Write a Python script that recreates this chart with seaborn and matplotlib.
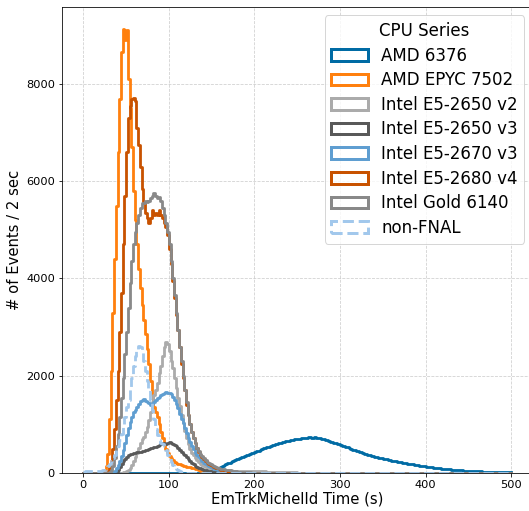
import numpy as np
import pandas as pd
import seaborn as sns
from matplotlib import pyplot as plt
from matplotlib.patches import Patch

# CPU series names, in legend / drawing order
cpus = ['AMD 6376', 'AMD EPYC 7502', 'Intel E5-2650 v2', 'Intel E5-2650 v3',
        'Intel E5-2670 v3', 'Intel E5-2680 v4', 'Intel Gold 6140', 'non-FNAL']

# tableau-colorblind10 colours
colors = ['#006BA4', '#FF800E', '#ABABAB', '#595959',
          '#5F9ED1', '#C85200', '#898989', '#A2C8EC']

# counts per 2 sec bin, each list starts at the given time (s)
amd6376_start = 150
amd6376 = [15, 25, 40, 60, 90,
           120, 140, 165, 180, 200,
           215, 235, 250, 265, 280,
           290, 305, 320, 330, 345,
           365, 375, 390, 405, 415,
           430, 445, 455, 470, 490,
           505, 515, 530, 540, 555,
           570, 580, 595, 605, 615,
           625, 635, 645, 650, 660,
           665, 675, 680, 690, 695,
           700, 705, 712, 715, 722,
           725, 730, 738, 728, 725,
           735, 720, 715, 710, 705,
           695, 685, 670, 660, 645,
           635, 620, 612, 600, 590,
           575, 565, 552, 540, 525,
           510, 495, 482, 470, 455,
           445, 435, 425, 410, 400,
           390, 375, 365, 355, 345,
           335, 325, 315, 308, 300,
           292, 285, 278, 270, 262,
           255, 248, 242, 236, 230,
           222, 215, 208, 200, 194,
           188, 181, 175, 168, 162,
           156, 150, 145, 140, 135,
           130, 125, 120, 115, 110,
           106, 102, 98, 94, 90,
           86, 82, 79, 75, 72,
           68, 65, 62, 60, 57,
           55, 52, 50, 48, 46,
           44, 42, 40, 38, 37,
           35, 33, 32, 30, 29,
           27, 26, 24, 23, 22,
           21, 20, 19, 18, 17,
           16, 15, 14, 13, 12]

epyc_start = 20
epyc = [10, 30, 60, 150, 400,
        1100, 2100, 3300, 4400, 5500,
        6600, 7700, 8650, 9130, 8900,
        9100, 8100, 7500, 6700, 5800,
        5200, 4700, 4200, 3800, 3450,
        3150, 2850, 2550, 2250, 1900,
        1600, 1350, 1250, 1150, 1000,
        850, 720, 600, 500, 420,
        350, 300, 265, 235, 210,
        190, 175, 160, 150, 140,
        132, 125, 118, 110, 100,
        92, 80, 65, 50, 35,
        25, 15, 10]

e5_2650v2_start = 46
e5_2650v2 = [10, 20, 35, 60, 100,
             160, 240, 320, 420, 520,
             620, 700, 750, 850, 950,
             1080, 1250, 1450, 1600, 1700,
             1850, 2050, 2200, 2400, 2600,
             2700, 2650, 2500, 2300, 2150,
             1950, 1750, 1550, 1380, 1200,
             1020, 860, 720, 600, 500,
             420, 360, 310, 260, 220,
             190, 160, 140, 120, 105,
             95, 85, 78, 72, 68,
             64, 60, 58, 57, 56,
             55, 54, 53, 52, 51,
             50, 49, 48, 47, 46,
             45, 44, 43, 42, 41,
             40, 39, 38, 37, 36,
             35, 34, 32, 31, 30,
             28, 27, 26, 25, 24,
             22, 21, 20, 19, 18,
             16, 15, 14, 13, 12,
             11, 10, 9, 8, 7,
             7, 6, 5, 5, 4,
             4, 3, 3, 2, 2]

e5_2650v3_start = 36
e5_2650v3 = [10, 30, 70, 120, 180,
             240, 290, 330, 360, 390,
             400, 410, 420, 430, 440,
             440, 450, 460, 470, 480,
             500, 510, 520, 530, 540,
             560, 580, 600, 620, 610,
             600, 620, 630, 620, 600,
             580, 550, 520, 480, 440,
             400, 360, 320, 280, 240,
             210, 180, 150, 130, 110,
             95, 80, 68, 58, 48,
             40, 33, 27, 22, 18,
             14, 11, 8, 6, 4, 2]

e5_2670v3_start = 34
e5_2670v3 = [20, 50, 100, 170, 250,
             350, 480, 620, 780, 920,
             1050, 1150, 1250, 1300, 1360,
             1420, 1480, 1500, 1520, 1490,
             1450, 1430, 1400, 1420, 1460,
             1500, 1540, 1570, 1600, 1620,
             1650, 1660, 1650, 1650, 1620,
             1570, 1500, 1420, 1330, 1220,
             1120, 1020, 920, 820, 720,
             640, 560, 490, 420, 370,
             320, 280, 240, 210, 180,
             155, 135, 115, 100, 88,
             78, 68, 60, 52, 45,
             40, 35, 30, 26, 22,
             19, 16, 13, 11, 9,
             7, 5, 4, 3, 2]

e5_2680v4_start = 26
e5_2680v4 = [20, 50, 120, 250, 500,
             900, 1500, 2100, 2900, 3700,
             4700, 5700, 6600, 7300, 7550,
             7700, 7720, 7650, 7100, 6750,
             6300, 5850, 5550, 5350, 5250,
             5150, 5250, 5400, 5300, 5350,
             5300, 5400, 5300, 5250, 5150,
             5050, 4900, 4600, 4300, 3950,
             3600, 3250, 2950, 2600, 2250,
             1950, 1700, 1400, 1200, 1000,
             850, 720, 620, 520, 440,
             380, 320, 280, 240, 210,
             190, 170, 150, 130, 110,
             95, 80, 70, 60, 50,
             40, 30, 25, 20, 15, 10]

gold6140_start = 30
gold6140 = [20, 60, 150, 300, 550,
            800, 1150, 1550, 1950, 2450,
            2900, 3400, 3900, 4350, 4700,
            4950, 5150, 5300, 5450, 5550,
            5550, 5600, 5580, 5600, 5650,
            5700, 5750, 5700, 5650, 5680,
            5600, 5450, 5300, 5150, 4950,
            4700, 4350, 4000, 3650, 3300,
            2950, 2600, 2300, 2000, 1700,
            1450, 1200, 1000, 850, 720,
            610, 520, 450, 390, 340,
            300, 260, 230, 200, 180,
            160, 140, 125, 110, 100,
            90, 80, 72, 65, 58,
            52, 47, 42, 38, 34,
            30, 27, 24, 21, 18,
            15, 12, 10, 8, 6, 5]

nonfnal_start = 0
nonfnal = [20, 40, 50, 50, 50,
           50, 45, 40, 40, 40,
           45, 55, 70, 100, 140,
           190, 240, 300, 380, 470,
           560, 680, 800, 950, 1150,
           1350, 1500, 1750, 1950, 2200,
           2400, 2550, 2620, 2600, 2480,
           2300, 2100, 1900, 1700, 1500,
           1300, 1100, 900, 780, 680,
           620, 600, 560, 480, 380,
           300, 230, 170, 120, 90,
           65, 45, 30, 20, 12,
           8, 5]

series = {
    'AMD 6376': (amd6376_start, amd6376),
    'AMD EPYC 7502': (epyc_start, epyc),
    'Intel E5-2650 v2': (e5_2650v2_start, e5_2650v2),
    'Intel E5-2650 v3': (e5_2650v3_start, e5_2650v3),
    'Intel E5-2670 v3': (e5_2670v3_start, e5_2670v3),
    'Intel E5-2680 v4': (e5_2680v4_start, e5_2680v4),
    'Intel Gold 6140': (gold6140_start, gold6140),
    'non-FNAL': (nonfnal_start, nonfnal),
}

# long form table: one row per bin (bin centre + count)
frames = []
for name, (start, counts) in series.items():
    t = start + 1 + 2 * np.arange(len(counts))
    frames.append(pd.DataFrame({'time': t, 'count': counts, 'cpu': name}))
df = pd.concat(frames, ignore_index=True)

fig = plt.figure(figsize=(529 / 72, 511 / 72), dpi=72)
ax = fig.add_axes([0.117, 0.0744, 0.89, 0.912])

# draw one at a time so the z-order follows the legend order
for name, col in zip(cpus, colors):
    ls = '--' if name == 'non-FNAL' else '-'
    sns.histplot(data=df[df['cpu'] == name], x='time', weights='count',
                 binwidth=2, binrange=(0, 500), element='step', fill=False,
                 color=col, linewidth=2.8, linestyle=ls, ax=ax)

ax.set_xlim(-25, 525)
ax.set_ylim(0, 9584)
ax.set_xticks([0, 100, 200, 300, 400, 500])
ax.set_yticks([0, 2000, 4000, 6000, 8000])
ax.tick_params(labelsize=11.4)
ax.grid(True, linestyle='--', color='#b0b0b0', linewidth=0.8, alpha=0.6)
ax.set_axisbelow(True)
ax.set_xlabel('EmTrkMichelId Time (s)', fontsize=14.7, labelpad=2)
ax.set_ylabel('# of Events / 2 sec', fontsize=14.7)

handles = [Patch(facecolor='none', edgecolor=c, linewidth=3,
                 linestyle='--' if n == 'non-FNAL' else '-')
           for n, c in zip(cpus, colors)]
ax.legend(handles, cpus, title='CPU Series', loc='upper right',
          fontsize=16.6, title_fontsize=16.6, labelspacing=0.4,
          handlelength=2.2, borderaxespad=0.5)

plt.savefig('out.png', dpi=72)
